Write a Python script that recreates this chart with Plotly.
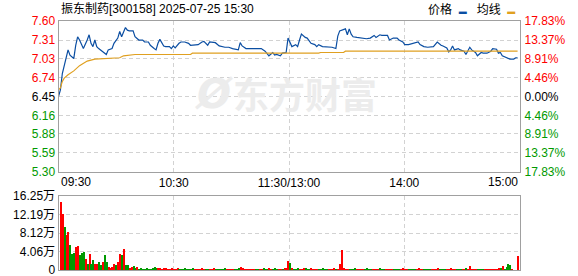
import plotly.graph_objects as go

W, H = 578, 276

title_text = "振东制药[300158] 2025-07-25 15:30"

# price axis ticks (left) and percentage labels (right)
price_ticks = [7.60, 7.31, 7.03, 6.74, 6.45, 6.16, 5.88, 5.59, 5.30]
pct_labels = ["17.83%", "13.37%", "8.91%", "4.46%", "0.00%", "4.46%", "8.91%", "13.37%", "17.83%"]
tick_sign = [1, 1, 1, 1, 0, -1, -1, -1, -1]

# volume axis ticks (万)
vol_ticks = [0, 4.0625, 8.125, 12.1875, 16.25]
vol_labels = ["0", "4.06万", "8.12万", "12.19万", "16.25万"]

time_labels = ["09:30", "10:30", "11:30/13:00", "14:00", "15:00"]

# minute index (0 = 09:30, 120 = 11:30/13:00, 240 = 15:00) and price
price_min = [0, 1, 2, 3, 4, 5, 6, 7, 8, 9, 10, 11, 12, 13, 15, 16, 17, 18, 19, 20,
             21, 22, 23, 25, 26, 28, 29, 30, 31, 32, 33, 35, 36, 37, 39, 40, 41, 42, 44, 45,
             47, 48, 50, 51, 52, 53, 55, 56, 58, 59, 60, 61, 63, 64, 66, 68, 69, 71, 73, 75,
             76, 78, 79, 82, 84, 87, 89, 91, 94, 95, 96, 98, 101, 103, 106, 108, 109, 110, 112, 113,
             114, 116, 117, 119,
             120, 121, 122, 124, 125, 126, 127, 129, 130, 132, 134, 135, 136, 138, 141, 143, 145, 146, 147, 149,
             150, 151, 152, 153, 154, 156, 159, 160, 161, 163, 165, 166, 168, 169, 172, 173, 175, 177, 178, 180,
             181, 183, 186, 188, 189, 191, 193, 196, 198, 200, 201, 203, 204, 205, 206, 207, 209, 210, 212, 213,
             215, 216, 218, 219, 221, 222, 224, 226, 227, 229, 230, 231, 232, 234, 236, 238, 239, 240]
price_val = [6.45, 6.55, 6.80, 6.92, 7.03, 7.16, 7.08, 7.06, 7.03, 7.23, 7.36, 7.31, 7.23, 7.18, 7.31, 7.39, 7.26, 7.21, 7.31, 7.21,
             7.18, 7.16, 7.13, 7.09, 7.16, 7.18, 7.26, 7.31, 7.34, 7.44, 7.36, 7.50, 7.46, 7.45, 7.45, 7.36, 7.34, 7.31, 7.31, 7.28,
             7.28, 7.23, 7.18, 7.16, 7.26, 7.32, 7.22, 7.21, 7.21, 7.18, 7.22, 7.19, 7.26, 7.28, 7.28, 7.26, 7.23, 7.24, 7.24, 7.28,
             7.29, 7.23, 7.28, 7.27, 7.22, 7.20, 7.20, 7.18, 7.16, 7.27, 7.22, 7.18, 7.18, 7.18, 7.18, 7.14, 7.11, 7.07, 7.12, 7.08,
             7.09, 7.07, 7.11, 7.12,
             7.34, 7.26, 7.21, 7.24, 7.21, 7.31, 7.40, 7.35, 7.34, 7.26, 7.24, 7.21, 7.24, 7.21, 7.20, 7.20, 7.18, 7.37, 7.45, 7.47,
             7.48, 7.39, 7.48, 7.40, 7.36, 7.35, 7.34, 7.34, 7.33, 7.34, 7.38, 7.35, 7.39, 7.38, 7.38, 7.31, 7.34, 7.34, 7.31, 7.28,
             7.24, 7.24, 7.26, 7.28, 7.24, 7.21, 7.20, 7.21, 7.28, 7.23, 7.22, 7.19, 7.13, 7.16, 7.22, 7.16, 7.18, 7.16, 7.14, 7.09,
             7.20, 7.16, 7.12, 7.07, 7.12, 7.11, 7.11, 7.14, 7.18, 7.17, 7.11, 7.12, 7.07, 7.04, 7.02, 7.02, 7.04, 7.04]

# average price line
avg_min = [0, 1, 2, 3, 5, 8, 11, 13, 15, 19, 24, 32, 34, 40, 69, 70, 136, 137, 149, 150, 240]
avg_val = [6.55, 6.58, 6.68, 6.73, 6.78, 6.84, 6.92, 6.96, 6.99, 7.02, 7.03, 7.04, 7.07, 7.09, 7.09, 7.11, 7.11, 7.12, 7.12, 7.14, 7.14]

# volume per minute (万手), index 0..240
volume = [
    0, 15.0, 12.3, 9.4, 7.7, 8.3, 5.5, 3.5, 3.7, 5.0,
    5.3, 3.3, 3.8, 4.0, 2.4, 1.3, 3.5, 1.3, 2.2, 1.3,
    1.3, 1.8, 1.1, 1.8, 3.3, 1.8, 0.66, 0.4, 0.66, 1.3,
    1.1, 1.8, 3.5, 3.3, 4.6, 1.1, 1.1, 0.4, 0.66, 0.9,
    0.3, 0.6, 0.2, 0.25, 0.2, 0.2, 0.25, 0.2, 0.2, 0.3,
    0.7, 0.4, 0.5, 0.25, 0.2, 0.25, 0.25, 0.2, 0.2, 0.25,
    0.2, 0.2, 0.25, 0.2, 0.2, 0.2, 0.25, 0.2, 0.2, 0.2,
    0.25, 0.2, 0.2, 0.2, 0.2, 0.25, 0.2, 0.2, 0.2, 0.2,
    0.2, 0.25, 0.2, 0.2, 0.2, 0.2, 0.2, 0.25, 0.2, 0.2,
    0.2, 0.2, 0.2, 0.2, 0.25, 0.7, 0.25, 0.2, 0.2, 0.2,
    0.2, 0.2, 0.2, 0.2, 0.2, 0.2, 0.2, 0.25, 0.2, 0.2,
    0.25, 0.2, 0.2, 0.25, 0.2, 0.2, 0.2, 0.2, 0.25, 0.3,
    2.0, 1.5, 0.25, 0.2, 0.2, 0.25, 0.2, 0.2, 0.5, 0.25,
    0.2, 0.2, 0.25, 0.2, 0.2, 0.2, 0.2, 0.2, 0.25, 0.2,
    0.2, 0.2, 0.2, 0.2, 0.25, 0.2, 0.2, 1.3, 4.4, 0.25,
    0.2, 0.2, 0.2, 0.2, 0.2, 0.25, 0.2, 0.2, 0.2, 0.2,
    0.2, 0.25, 0.2, 0.2, 0.2, 0.2, 0.2, 0.2, 0.25, 0.2,
    0.2, 0.2, 0.2, 0.2, 0.2, 0.2, 0.2, 0.2, 0.2, 0.2,
    0.25, 0.2, 0.2, 0.2, 0.2, 0.2, 0.2, 0.2, 0.25, 0.2,
    0.2, 0.2, 0.2, 0.2, 0.2, 0.2, 0.2, 0.2, 0.25, 0.2,
    0.2, 0.2, 0.2, 0.2, 0.2, 0.25, 0.2, 0.2, 0.2, 0.2,
    0.2, 0.2, 0.2, 0.25, 0.2, 0.9, 0.2, 0.2, 0.2, 0.2,
    0.2, 0.2, 0.2, 0.2, 0.2, 0.2, 0.2, 0.2, 0.2, 0.2,
    0.25, 0.5, 0.9, 0.2, 0.7, 1.3, 1.1, 0.2, 0, 0,
    3.1,
]
# r = up (red), g = down (green), one char per minute
volume_dir = ("rrrgrrgggrrgggrgrggrrggrggrrrrgrrgrggrrg"
              "grgggggggg" "ggrrrrrrrr" "rrrggggggg" "grrrrrrggr"
              "rrggggggrr" "rrgggrrrrr" "rrrggrrggg" "rrgggrrgrr"
              "rgrgggrrrg" "ggrrrrgggg" "grrrrgrrrr" "rrggggrrrr"
              "ggggrrrrgg" "grrrrggggr" "rrrggggrrr" "rggggrrrrg"
              "gggrrrrrgg" "grrgrrrrrg" "gggrrrrrrr" "rgrggggrrr"
              "r")

RED = "#ff0000"
GREEN = "#009900"
BLACK = "#000000"
BLUE = "#0b4ea2"
ORANGE = "#e0a020"
FRAME = "#a0a0a0"
GRID = "#d2d2d2"
FONT = "Liberation Sans, Noto Sans CJK SC, sans-serif"

N_SLOTS = 241
x_minutes = list(range(len(volume)))

def colored(txt, sign):
    c = RED if sign > 0 else (GREEN if sign < 0 else BLACK)
    return f'<span style="color:{c}">{txt}</span>'

left_text = [colored(f"{v:.2f}", s) for v, s in zip(price_ticks, tick_sign)]
right_text = [colored(t, s) for t, s in zip(pct_labels, tick_sign)]

fig = go.Figure()
fig.add_trace(go.Scatter(x=price_min, y=price_val, mode="lines",
                         line=dict(color=BLUE, width=1.2), xaxis="x", yaxis="y",
                         hoverinfo="skip", showlegend=False))
fig.add_trace(go.Scatter(x=avg_min, y=avg_val, mode="lines",
                         line=dict(color=ORANGE, width=1.2), xaxis="x", yaxis="y",
                         hoverinfo="skip", showlegend=False))
fig.add_trace(go.Bar(x=x_minutes, y=volume,
                     marker=dict(color=[RED if d == "r" else GREEN for d in volume_dir], line=dict(width=0)),
                     width=0.6, xaxis="x2", yaxis="y2", hoverinfo="skip", showlegend=False))

x0, x1 = 58.5 / W, 519.5 / W
grid_x = [N_SLOTS / 4, N_SLOTS / 2, 3 * N_SLOTS / 4]
axis_common = dict(showline=True, linecolor=FRAME, linewidth=1, mirror=True, zeroline=False,
                   showgrid=True, gridcolor=GRID, griddash="4px,3px", gridwidth=1, ticks="",
                   automargin=False, ticklabeloverflow="allow",
                   tickfont=dict(family=FONT, size=12, color=BLACK), fixedrange=True)

fig.update_layout(
    template="none",
    width=W, height=H, margin=dict(l=0, r=0, t=0, b=0, pad=0), autosize=False,
    paper_bgcolor="white", plot_bgcolor="white", bargap=0,
    xaxis=dict(domain=[x0, x1], range=[0, N_SLOTS], anchor="y",
               tickvals=grid_x, ticktext=time_labels[1:4], **axis_common),
    yaxis=dict(domain=[1 - 172 / H, 1 - 21 / H], range=[5.30, 7.60], anchor="x",
               tickvals=price_ticks, ticktext=left_text, **axis_common),
    yaxis3=dict(overlaying="y", side="right", anchor="x", range=[5.30, 7.60],
                tickvals=price_ticks, ticktext=right_text, showgrid=False, zeroline=False,
                showline=False, ticks="", ticklabelstandoff=4, automargin=False,
                ticklabeloverflow="allow",
                tickfont=dict(family=FONT, size=12), fixedrange=True),
    xaxis2=dict(domain=[x0, x1], range=[0, N_SLOTS], anchor="y2",
                tickvals=grid_x, showticklabels=False, **axis_common),
    yaxis2=dict(domain=[1 - 270 / H, 1 - 196 / H], range=[0, 16.25], anchor="x2",
                tickvals=vol_ticks, ticktext=vol_labels, **axis_common),
)
# dummy trace so the right axis renders
fig.add_trace(go.Scatter(x=[None], y=[None], xaxis="x", yaxis="y3", showlegend=False, hoverinfo="skip"))

ann_font = dict(family=FONT, size=12, color=BLACK)
fig.add_annotation(x=x0, y=1 - 9 / H, xref="paper", yref="paper", text=title_text,
                   showarrow=False, xanchor="left", yanchor="middle", font=ann_font)
fig.add_annotation(x=0, y=1 - 182 / H, xref="x", yref="paper", text=time_labels[0],
                   showarrow=False, xanchor="left", yanchor="middle", font=ann_font)
fig.add_annotation(x=N_SLOTS, y=1 - 182 / H, xref="x", yref="paper", text=time_labels[4],
                   showarrow=False, xanchor="right", yanchor="middle", font=ann_font)
legend_txt = (f'价格\u00a0\u00a0<span style="color:{BLUE};font-size:8px">▬</span>\u00a0\u00a0\u00a0'
              f'均线\u00a0\u00a0<span style="color:{ORANGE};font-size:8px">▬</span>')
fig.add_annotation(x=517 / W, y=1 - 9 / H, xref="paper", yref="paper", text=legend_txt,
                   showarrow=False, xanchor="right", yanchor="middle", font=ann_font)
fig.add_annotation(x=214 / W, y=1 - 94 / H, xref="paper", yref="paper", text="<b><i>Ø</i></b>",
                   showarrow=False, xanchor="center", yanchor="middle",
                   font=dict(family="DejaVu Sans", size=40, color="#ececec"))
fig.add_annotation(x=305 / W, y=1 - 93 / H, xref="paper", yref="paper", text="<b>东方财富</b>",
                   showarrow=False, xanchor="center", yanchor="middle",
                   font=dict(family="Noto Sans CJK SC", size=36, color="#ececec"))

fig.write_html("out.html", config={"displayModeBar": False})
